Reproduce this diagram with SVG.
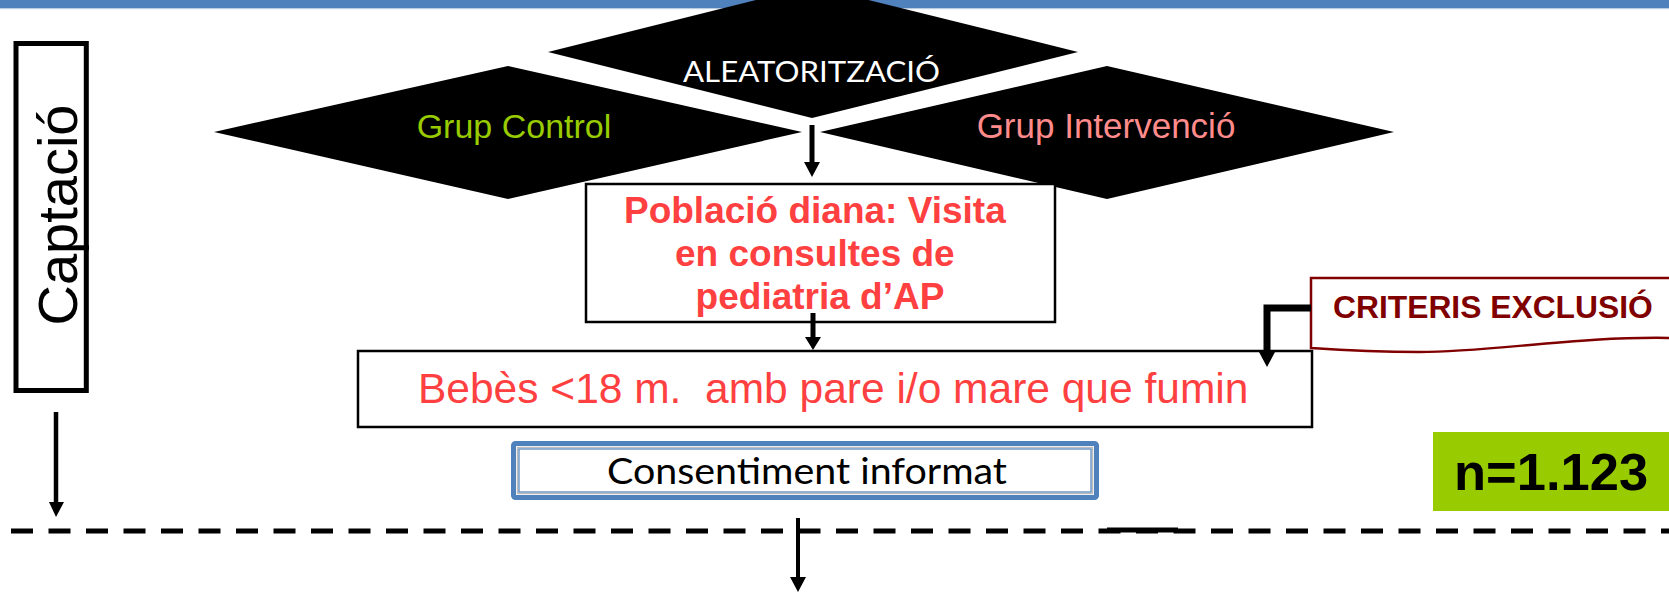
<svg xmlns="http://www.w3.org/2000/svg" width="1669" height="594" viewBox="0 0 1669 594">
<style>
.ar{font-family:"Liberation Sans",Arial,sans-serif}
.cal{font-family:Lato,"Open Sans",sans-serif}
.red{fill:#FF4040}
.box{fill:#fff;stroke:#000;stroke-width:2.5}
.dia{fill:#000}
.ln{stroke:#000;fill:none}
.hd{fill:#000}
</style>
<rect x="0" y="0" width="1669" height="8" fill="#4F81BD"/>
<rect x="0" y="8" width="1669" height="1.2" fill="#B8CCE4"/>

<g id="captacio">
<rect x="16" y="43.5" width="70.3" height="347" fill="#fff" stroke="#000" stroke-width="5"/>
<text class="ar" font-size="56" transform="translate(77,215) rotate(-90)" text-anchor="middle">Captació</text>
</g>

<g id="grup-control">
<polygon class="dia" points="214,132 508,66 802,132 508,199"/>
<text class="ar" x="514" y="138" font-size="34" text-anchor="middle" fill="#99CC00">Grup Control</text>
</g>
<g id="grup-intervencio">
<polygon class="dia" points="820,132 1107,66 1394,132 1107,199"/>
<text class="ar" x="1106" y="138" font-size="35" text-anchor="middle" fill="#FF8B8B">Grup Intervenció</text>
</g>
<g id="aleatoritzacio">
<polygon class="dia" points="548,52 812,-14 1078,52 812,118"/>
<text class="cal" x="683" y="82" font-size="28" textLength="257" lengthAdjust="spacingAndGlyphs" fill="#fff">ALEATORITZACIÓ</text>
</g>

<g id="poblacio">
<rect class="box" x="586" y="184" width="469" height="138"/>
<text class="ar red" font-size="37" font-weight="bold" text-anchor="middle">
<tspan x="820" y="223">Població diana: Visita</tspan>
<tspan x="820" y="266">en consultes de</tspan>
<tspan x="820" y="309">pediatria d’AP</tspan>
</text>
</g>

<g id="bebes">
<rect class="box" x="358" y="351" width="954" height="76"/>
<text class="ar red" x="418" y="403" font-size="42.5" xml:space="preserve">Bebès &lt;18 m.  amb pare i/o mare que fumin</text>
</g>

<g id="criteris">
<path d="M1311,278 L1672,278 L1672,338 C1580,336 1490,352 1420,352 C1370,352 1340,350 1311,348 Z" fill="#fff" stroke="#800000" stroke-width="2.5"/>
<text class="ar" x="1333" y="318" font-size="31.8" font-weight="bold" fill="#800000">CRITERIS EXCLUSIÓ</text>
</g>

<g id="consentiment">
<rect x="513.5" y="443.5" width="583" height="54" rx="2" fill="#fff" stroke="#4F81BD" stroke-width="5"/>
<rect x="517.5" y="447.5" width="575" height="46" fill="none" stroke="#BBBBBB" stroke-width="1.5"/>
<rect x="519" y="449" width="572" height="43" fill="none" stroke="#4F81BD" stroke-width="1.2"/>
<text class="cal" x="607" y="484" font-size="37" textLength="400" lengthAdjust="spacingAndGlyphs" fill="#000">Consentiment informat</text>
</g>

<g id="n-total">
<rect x="1433" y="432" width="236" height="79" fill="#99CC00"/>
<text class="ar" x="1454" y="490" font-size="52.5" font-weight="bold" fill="#000">n=1.123</text>
</g>

<g id="connectors">
<line class="ln" x1="11" y1="531" x2="1669" y2="531" stroke-width="5" stroke-dasharray="22 15.5"/>
<line class="ln" x1="1107" y1="530" x2="1178" y2="530" stroke-width="5"/>
<line class="ln" x1="812" y1="125" x2="812" y2="163" stroke-width="5"/>
<polygon class="hd" points="804,162 820,162 812,177"/>
<line class="ln" x1="813" y1="313" x2="813" y2="338" stroke-width="5"/>
<polygon class="hd" points="805,337 821,337 813,350"/>
<polyline class="ln" points="1311,308 1267,308 1267,353" stroke-width="7"/>
<polygon class="hd" points="1259,352 1275,352 1267,367"/>
<line class="ln" x1="56" y1="412" x2="56" y2="503" stroke-width="4.5"/>
<polygon class="hd" points="49,502 64,502 56,517"/>
<line class="ln" x1="798" y1="518" x2="798" y2="578" stroke-width="4"/>
<polygon class="hd" points="790,577 806,577 798,592"/>
</g>
</svg>
